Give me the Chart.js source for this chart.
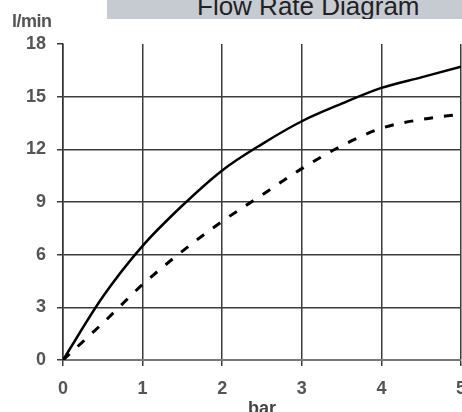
<!DOCTYPE html>
<html lang="en">
<head>
  <meta charset="UTF-8">
  <title>Flow Rate Diagram</title>
  <script src="https://cdn.jsdelivr.net/npm/chart.js"></script>
  <style>
    html, body { margin: 0; padding: 0; background: #fff; overflow: hidden; width: 462px; height: 412px; }
    #wrap { position: relative; width: 480px; height: 420px; }
    #flowChart { position: absolute; left: 0; top: 0; }
    .titlebox { position: absolute; left: 107px; top: 0; width: 373px; height: 19px; background: #c6cbd2; overflow: hidden; }
    .titlebox span { position: absolute; left: 90px; top: -7px; font: 26px Arial, "Liberation Sans", sans-serif; line-height: 26px; color: #222; white-space: nowrap; }
    .unit { position: absolute; left: 12px; top: 12px; font: bold 18px Arial, "Liberation Sans", sans-serif; line-height: 18px; color: #555; letter-spacing: -0.5px; }
  </style>
</head>
<body>
  <div id="wrap">
    <canvas id="flowChart" width="480" height="420"></canvas>
    <div class="titlebox"><span>Flow Rate Diagram</span></div>
    <div class="unit">l/min</div>
  </div>

  <script>
    // pressure in bar
    const pressure = [0, 0.5, 1, 1.5, 2, 2.5, 3, 3.5, 4, 4.5, 5];
    // flow in l/min
    const flowSolid = [0, 3.6, 6.5, 8.8, 10.8, 12.3, 13.6, 14.6, 15.5, 16.1, 16.7];
    const flowDashed = [0, 2.1, 4.3, 6.2, 7.9, 9.4, 10.9, 12.2, 13.2, 13.7, 14.0];
    const yTicks = [0, 3, 6, 9, 12, 15, 18];
    const xTicks = [0, 1, 2, 3, 4, 5];

    const tickFont = { family: 'Arial, "Liberation Sans", sans-serif', size: 18, weight: 'bold' };

    const ctx = document.getElementById('flowChart').getContext('2d');
    const flowChart = new Chart(ctx, {
      type: 'line',
      data: {
        datasets: [
          {
            data: pressure.map((p, i) => ({ x: p, y: flowSolid[i] })),
            borderColor: '#000',
            borderWidth: 2.5,
            pointRadius: 0,
            cubicInterpolationMode: 'monotone',
            fill: false
          },
          {
            data: pressure.map((p, i) => ({ x: p, y: flowDashed[i] })),
            borderColor: '#000',
            borderWidth: 3,
            borderDash: [9, 11],
            pointRadius: 0,
            cubicInterpolationMode: 'monotone',
            fill: false
          }
        ]
      },
      options: {
        responsive: false,
        animation: false,
        layout: { padding: { top: 44, right: 19, left: 0, bottom: 0 } },
        plugins: {
          legend: { display: false },
          tooltip: { enabled: false }
        },
        scales: {
          x: {
            type: 'linear',
            min: 0,
            max: 5,
            afterFit: s => { s.height = 60; },
            afterBuildTicks: s => { s.ticks = xTicks.map(v => ({ value: v })); },
            ticks: { font: tickFont, color: '#555', padding: 12, maxRotation: 0 },
            grid: { color: '#3c3c3c', lineWidth: 1.5, tickLength: 6, tickColor: '#3c3c3c' },
            border: { color: '#777', width: 2 },
            title: {
              display: true,
              text: 'bar',
              font: { family: 'Arial, "Liberation Sans", sans-serif', size: 18, weight: 'bold' },
              color: '#444',
              padding: { top: 0, bottom: 0 }
            }
          },
          y: {
            min: 0,
            max: 18,
            afterFit: s => { s.width = 63; },
            afterBuildTicks: s => { s.ticks = yTicks.map(v => ({ value: v })); },
            ticks: { font: tickFont, color: '#555', padding: 11 },
            grid: {
              color: c => (c.tick && c.tick.value === 18) ? 'rgba(0,0,0,0)' : '#3c3c3c',
              lineWidth: 1.5,
              tickLength: 6,
              tickColor: '#3c3c3c'
            },
            border: { color: '#333', width: 1.5 }
          }
        }
      }
    });
  </script>
</body>
</html>
